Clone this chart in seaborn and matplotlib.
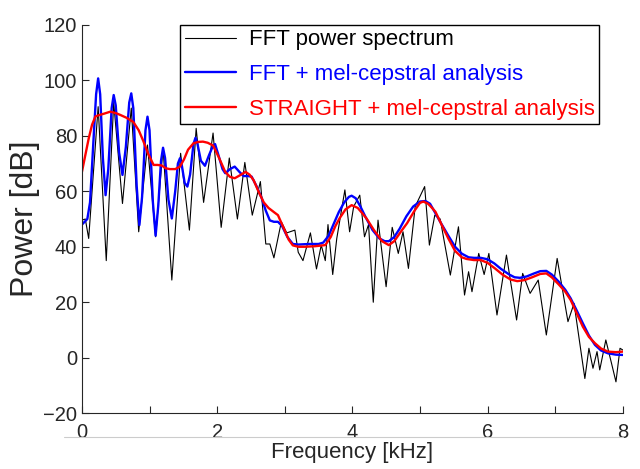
import matplotlib
matplotlib.use("Agg")
import matplotlib.pyplot as plt
import seaborn as sns
from matplotlib.lines import Line2D
from matplotlib.ticker import MultipleLocator

# FFT power spectrum (black)
fft_f = [0.00, 0.05, 0.10, 0.24, 0.36, 0.47, 0.60, 0.73, 0.84, 0.97, 1.09, 1.20, 1.33, 1.46,
         1.59, 1.69, 1.80, 1.94, 2.06, 2.18, 2.30, 2.41, 2.52, 2.64, 2.72, 2.78, 2.84, 2.95,
         3.03, 3.15, 3.20, 3.27, 3.38, 3.47, 3.54, 3.60, 3.64, 3.71, 3.77, 3.89, 3.96, 4.02,
         4.11, 4.18, 4.24, 4.31, 4.38, 4.50, 4.59, 4.68, 4.75, 4.83, 4.93, 5.07, 5.14, 5.22,
         5.30, 5.45, 5.57, 5.66, 5.72, 5.77, 5.87, 5.95, 6.02, 6.14, 6.28, 6.43, 6.52, 6.63,
         6.75, 6.87, 7.03, 7.19, 7.28, 7.44, 7.50, 7.56, 7.62, 7.66, 7.75, 7.84, 7.90, 7.96, 8.00]
fft_db = [49.6, 50.0, 43.0, 90.5, 35.0, 92.0, 55.6, 90.0, 45.4, 76.7, 43.6, 75.5, 28.0, 73.7,
          46.0, 82.7, 56.0, 81.0, 47.0, 72.0, 50.0, 70.4, 51.4, 63.5, 41.0, 41.0, 36.0, 49.0,
          45.0, 46.0, 38.0, 35.0, 45.0, 32.0, 40.6, 35.0, 48.0, 30.0, 43.0, 60.5, 45.4, 54.5,
          58.6, 43.6, 48.0, 20.0, 49.6, 25.6, 47.0, 37.6, 45.4, 32.2, 54.5, 61.7, 40.6, 51.4,
          50.0, 29.8, 47.2, 22.6, 31.0, 23.8, 37.6, 30.0, 37.6, 15.4, 37.0, 13.6, 30.4, 23.2,
          28.0, 8.2, 35.8, 13.0, 19.6, -7.5, 3.4, -3.8, 2.2, -4.4, 6.4, -2.6, -8.7, 3.4, 2.8]

# FFT + mel-cepstral analysis (blue)
mc_f = [0.00, 0.08, 0.12, 0.17, 0.21, 0.24, 0.27, 0.31, 0.35, 0.39, 0.44, 0.47, 0.50, 0.55,
        0.60, 0.65, 0.70, 0.73, 0.76, 0.81, 0.85, 0.89, 0.94, 0.97, 1.00, 1.05, 1.09, 1.13,
        1.17, 1.20, 1.23, 1.28, 1.33, 1.38, 1.42, 1.45, 1.48, 1.52, 1.56, 1.60, 1.65, 1.68,
        1.71, 1.76, 1.82, 1.88, 1.94, 1.97, 2.02, 2.08, 2.12, 2.19, 2.26, 2.33, 2.39, 2.45,
        2.51, 2.58, 2.66, 2.72, 2.78, 2.84, 2.90, 2.96, 3.04, 3.12, 3.20, 3.36, 3.50, 3.57,
        3.65, 3.72, 3.80, 3.88, 3.95, 3.99, 4.05, 4.12, 4.20, 4.30, 4.40, 4.48, 4.54, 4.62,
        4.70, 4.80, 4.90, 5.00, 5.08, 5.15, 5.22, 5.30, 5.42, 5.52, 5.62, 5.72, 5.80, 5.90,
        6.00, 6.10, 6.20, 6.32, 6.40, 6.48, 6.58, 6.68, 6.78, 6.87, 6.95, 7.05, 7.15, 7.23,
        7.32, 7.41, 7.50, 7.59, 7.68, 7.78, 7.90, 8.00]
mc_db = [48.0, 50.0, 56.0, 78.0, 95.0, 100.7, 95.0, 72.0, 58.6, 68.0, 90.0, 94.7, 91.0, 74.0,
         65.9, 76.0, 92.0, 95.3, 90.0, 62.0, 47.8, 58.0, 82.0, 86.9, 82.0, 56.0, 44.0, 55.0,
         71.0, 75.7, 72.0, 57.0, 50.2, 60.0, 70.0, 71.9, 69.0, 63.0, 61.7, 66.0, 77.0, 79.3,
         77.0, 71.0, 69.2, 73.0, 76.5, 77.0, 73.0, 68.0, 66.5, 68.0, 68.9, 67.0, 65.5, 65.5,
         65.3, 62.0, 57.5, 53.0, 49.5, 49.0, 49.0, 47.5, 43.5, 41.0, 40.8, 41.0, 41.0, 41.5,
         44.0, 48.0, 52.5, 56.0, 58.0, 58.4, 57.5, 54.5, 50.5, 46.0, 43.0, 42.0, 42.0, 43.5,
         46.5, 51.0, 54.5, 56.3, 56.5, 55.5, 52.5, 49.0, 44.0, 40.0, 37.5, 36.2, 36.0, 36.0,
         35.5, 34.0, 32.0, 30.0, 29.0, 28.8, 29.3, 30.3, 31.2, 31.3, 30.0, 27.5, 24.5, 21.4,
         17.0, 12.4, 8.0, 4.6, 2.6, 1.6, 1.1, 1.0]

# STRAIGHT + mel-cepstral analysis (red)
st_f = [0.00, 0.05, 0.10, 0.15, 0.20, 0.26, 0.33, 0.42, 0.50, 0.57, 0.66, 0.76, 0.84, 0.91,
        0.98, 1.06, 1.12, 1.18, 1.24, 1.30, 1.38, 1.45, 1.51, 1.57, 1.65, 1.72, 1.79, 1.86,
        1.94, 2.02, 2.12, 2.19, 2.26, 2.34, 2.42, 2.48, 2.54, 2.62, 2.69, 2.76, 2.84, 2.90,
        2.98, 3.06, 3.12, 3.20, 3.30, 3.45, 3.60, 3.68, 3.75, 3.81, 3.90, 3.99, 4.08, 4.15,
        4.21, 4.32, 4.44, 4.54, 4.62, 4.72, 4.81, 4.92, 5.00, 5.05, 5.12, 5.18, 5.23, 5.32,
        5.42, 5.52, 5.62, 5.69, 5.80, 5.90, 6.00, 6.11, 6.22, 6.34, 6.44, 6.55, 6.66, 6.78,
        6.87, 6.95, 7.05, 7.15, 7.23, 7.32, 7.41, 7.50, 7.59, 7.68, 7.78, 7.90, 8.00]
st_db = [67.0, 73.0, 79.0, 84.0, 87.0, 87.5, 88.0, 88.7, 88.2, 87.5, 86.5, 85.0, 82.0, 78.0,
         73.5, 69.5, 69.5, 69.3, 68.3, 68.0, 68.0, 68.9, 71.5, 75.0, 77.3, 77.8, 77.9, 77.5,
         76.5, 72.5, 67.0, 65.2, 64.7, 65.8, 67.0, 66.0, 64.0, 59.5, 56.0, 54.0, 52.5, 51.4,
         47.0, 42.5, 40.5, 40.0, 40.0, 40.2, 40.6, 43.5, 47.5, 50.2, 53.5, 55.0, 54.0, 52.0,
         50.2, 46.0, 42.0, 40.6, 42.0, 45.5, 48.5, 53.0, 55.8, 56.3, 55.5, 54.0, 52.6, 48.0,
         43.0, 38.5, 36.2, 35.6, 35.2, 35.2, 34.2, 32.2, 30.0, 28.2, 27.6, 28.0, 29.0, 30.2,
         30.4, 29.0, 26.5, 23.8, 20.8, 16.0, 11.2, 7.5, 5.2, 3.3, 2.2, 2.0, 2.2]

labels = ["FFT power spectrum", "FFT + mel-cepstral analysis", "STRAIGHT + mel-cepstral analysis"]
colors = ["black", "#0000ff", "#ff0000"]

sns.set_style("ticks")
plt.rcParams['font.family'] = ['Liberation Sans', 'DejaVu Sans']

fig = plt.figure(figsize=(6.4, 4.69), dpi=100)
ax = fig.add_axes([0.128, 0.119, 0.845, 0.828])

sns.lineplot(x=fft_f, y=fft_db, ax=ax, color=colors[0], lw=0.8, label=labels[0], sort=False)
sns.lineplot(x=mc_f, y=mc_db, ax=ax, color=colors[1], lw=1.7, label=labels[1], sort=False)
sns.lineplot(x=st_f, y=st_db, ax=ax, color=colors[2], lw=1.7, label=labels[2], sort=False)

ax.set_xlim(0, 8)
ax.set_ylim(-20, 120)
ax.xaxis.set_major_locator(MultipleLocator(2))
ax.xaxis.set_minor_locator(MultipleLocator(1))
ax.yaxis.set_major_locator(MultipleLocator(20))
ax.tick_params(axis='both', which='both', direction='in', labelsize=14.5, length=5, width=0.8)
ax.tick_params(axis='x', pad=7)
sns.despine(ax=ax)
for s in ['left', 'bottom']:
    ax.spines[s].set_linewidth(0.8)

ax.set_xlabel("Frequency [kHz]", fontsize=16, labelpad=0)
ax.set_ylabel("Power [dB]", fontsize=23, labelpad=2)

leg = ax.legend(loc='upper right', bbox_to_anchor=(0.957, 1.0), borderaxespad=0, fontsize=16,
                frameon=True, fancybox=False, edgecolor='black', framealpha=1,
                handlelength=2.3, borderpad=0.2, labelspacing=0.62, handletextpad=0.6)
leg.get_frame().set_linewidth(1.0)
for t, c in zip(leg.get_texts(), colors):
    t.set_color(c)

fig.add_artist(Line2D([0.10, 0.973], [0.068, 0.068], transform=fig.transFigure,
                      color='#cccccc', lw=0.8))

fig.savefig("out.png", dpi=100)
